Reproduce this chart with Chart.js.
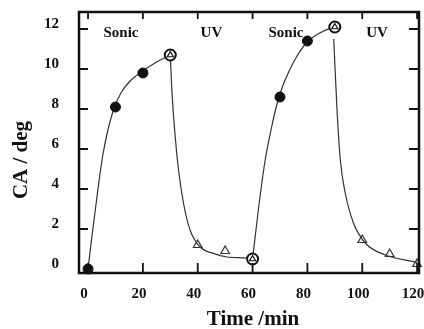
<!DOCTYPE html>
<html>
<head>
<meta charset="utf-8">
<script src="https://cdn.jsdelivr.net/npm/chart.js@4.4.1/dist/chart.umd.min.js"></script>
<style>
  html, body { margin: 0; padding: 0; background: #fff; }
  canvas { display: block; }
</style>
</head>
<body>
<canvas id="chart" width="424" height="329"></canvas>
<script>
// measured points
const sonicTime = [0, 10, 20, 70, 80];
const sonicCA = [0, 8.1, 9.8, 8.6, 11.4];
const switchTime = [30, 60, 90];
const switchCA = [10.7, 0.5, 12.1];
const uvTime = [40, 50, 100, 110, 120];
const uvCA = [1.2, 0.9, 1.45, 0.75, 0.25];

// fitted curve
const rise1Time = [0, 1.2, 2.6, 4.0, 5.4, 7.0, 9.5, 12.0, 15.0, 20.0, 25.0, 30.0];
const rise1CA = [0, 1.4, 2.9, 4.4, 5.7, 6.8, 8.05, 8.8, 9.35, 9.9, 10.35, 10.7];
const fall1Time = [30.0, 30.5, 31.8, 33.0, 34.8, 37.2, 40.9, 45.7, 50.6, 58.0, 60.0];
const fall1CA = [10.7, 9.1, 6.6, 4.95, 3.3, 1.95, 1.1, 0.78, 0.6, 0.55, 0.5];
const rise2Time = [60.0, 62.1, 64.6, 66.8, 69.0, 71.0, 73.0, 76.0, 79.6, 84.5, 89.4];
const rise2CA = [0.5, 2.95, 5.45, 7.0, 8.3, 9.15, 9.8, 10.6, 11.3, 11.8, 12.1];
const fall2Time = [89.6, 90.8, 92.0, 93.8, 96.8, 101.1, 108.4, 118.7, 120.0];
const fall2CA = [11.5, 7.95, 5.45, 3.8, 2.3, 1.3, 0.7, 0.37, 0.33];

const xTicks = [0, 20, 40, 60, 80, 100, 120];
const yTicks = [0, 2, 4, 6, 8, 10, 12];

// stage labels along the top
const stageNames = ['Sonic', 'UV', 'Sonic', 'UV'];
const stageTime = [12, 45, 72.2, 105.4];

const ink = '#111';
const serif = '"Liberation Serif", "Times New Roman", serif';

function pts(xs, ys) {
    return xs.map((v, i) => ({ x: v, y: ys[i] }));
}

function curve(xs, ys) {
    return {
        type: 'line',
        data: pts(xs, ys),
        borderColor: '#333',
        borderWidth: 1.2,
        pointRadius: 0,
        cubicInterpolationMode: 'monotone',
        fill: false
    };
}

function noPad(s) {
    s.paddingLeft = 0;
    s.paddingRight = 0;
    s.paddingTop = 0;
    s.paddingBottom = 0;
}

// frame, inward ticks, stage labels and axis titles
const framePlugin = {
    id: 'frame',
    afterDraw(chart) {
        const ctx = chart.ctx;
        const a = chart.chartArea;
        const x = chart.scales.x;
        const y = chart.scales.y;
        ctx.save();
        ctx.strokeStyle = ink;
        ctx.lineWidth = 2.5;
        ctx.strokeRect(a.left, a.top, a.right - a.left, a.bottom - a.top);

        ctx.lineWidth = 1.8;
        ctx.beginPath();
        xTicks.forEach(v => {
            const px = x.getPixelForValue(v);
            ctx.moveTo(px, a.bottom);
            ctx.lineTo(px, a.bottom - 10);
            ctx.moveTo(px, a.top);
            ctx.lineTo(px, a.top + 7);
        });
        yTicks.slice(1).forEach(v => {
            const py = y.getPixelForValue(v);
            ctx.moveTo(a.left, py);
            ctx.lineTo(a.left + 9, py);
            ctx.moveTo(a.right, py);
            ctx.lineTo(a.right - 10, py);
        });
        ctx.stroke();

        ctx.fillStyle = ink;
        ctx.textAlign = 'center';
        ctx.textBaseline = 'middle';
        ctx.font = 'bold 15px ' + serif;
        stageNames.forEach((s, i) => {
            ctx.fillText(s, x.getPixelForValue(stageTime[i]), 33);
        });

        ctx.font = 'bold 21px ' + serif;
        ctx.fillText('Time /min', 253, 320);
        ctx.translate(22, 160);
        ctx.rotate(-Math.PI / 2);
        ctx.fillText('CA / deg', 0, 0);
        ctx.restore();
    }
};

new Chart(document.getElementById('chart'), {
    type: 'scatter',
    data: {
        datasets: [
            {
                data: pts(sonicTime, sonicCA),
                pointStyle: 'circle',
                pointRadius: 5,
                backgroundColor: ink,
                borderColor: ink,
                borderWidth: 1,
                clip: false
            },
            {
                data: pts(switchTime, switchCA),
                pointStyle: 'triangle',
                pointRadius: 3.5,
                backgroundColor: 'rgba(0,0,0,0)',
                borderColor: ink,
                borderWidth: 1.2,
                clip: false
            },
            {
                data: pts(switchTime, switchCA),
                pointStyle: 'circle',
                pointRadius: 5.5,
                backgroundColor: '#fff',
                borderColor: ink,
                borderWidth: 2,
                clip: false
            },
            {
                data: pts(uvTime, uvCA),
                pointStyle: 'triangle',
                pointRadius: 5,
                backgroundColor: 'rgba(0,0,0,0)',
                borderColor: '#333',
                borderWidth: 1.2,
                clip: false
            },
            curve(rise1Time, rise1CA),
            curve(fall1Time, fall1CA),
            curve(rise2Time, rise2CA),
            curve(fall2Time, fall2CA)
        ]
    },
    options: {
        responsive: false,
        animation: false,
        devicePixelRatio: 1,
        layout: { autoPadding: false, padding: { top: 12, right: 5, left: 0, bottom: 0 } },
        plugins: {
            legend: { display: false },
            tooltip: { enabled: false }
        },
        scales: {
            x: {
                type: 'linear',
                min: -3.3,
                max: 120.7,
                grid: { display: false },
                border: { display: false },
                afterBuildTicks: s => { s.ticks = xTicks.map(v => ({ value: v })); },
                afterFit: s => { s.height = 56; noPad(s); },
                ticks: {
                    color: ink,
                    padding: 4,
                    labelOffset: -4,
                    font: { family: serif, size: 15, weight: 'bold' }
                }
            },
            y: {
                type: 'linear',
                min: -0.2,
                max: 12.85,
                grid: { display: false },
                border: { display: false },
                afterBuildTicks: s => { s.ticks = yTicks.map(v => ({ value: v })); },
                afterFit: s => { s.width = 79; noPad(s); },
                ticks: {
                    color: ink,
                    padding: 12,
                    labelOffset: -5,
                    font: { family: serif, size: 15, weight: 'bold' }
                }
            }
        }
    },
    plugins: [framePlugin]
});
</script>
</body>
</html>
